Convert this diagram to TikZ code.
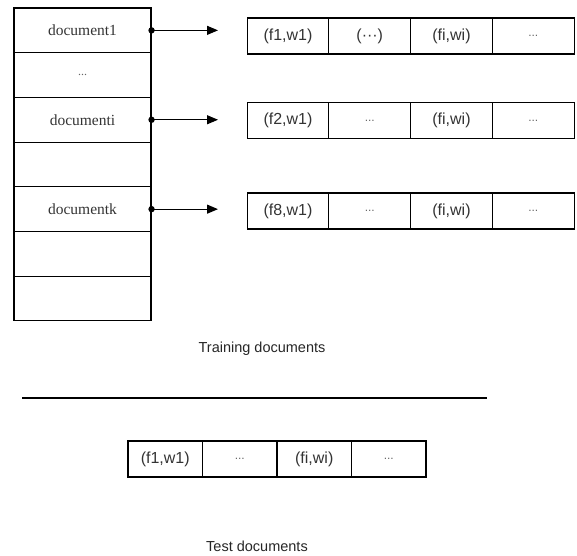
\documentclass[tikz,border=0pt]{standalone}
\usepackage{fontspec}
\setmainfont{Liberation Serif}
\newfontfamily\arialf{Liberation Sans}
\usetikzlibrary{arrows.meta}
\begin{document}
\begin{tikzpicture}[x=1pt,y=-1pt,
 docrow/.style={draw, line width=1.1pt, minimum width=137pt, minimum height=44.7pt, inner sep=0pt, font=\fontsize{15.5}{17}\selectfont, text=black!80},
 cell/.style={draw, line width=1.1pt, minimum width=81.75pt, minimum height=36pt, inner sep=0pt, font=\arialf\fontsize{16}{18}\selectfont, text=black!80},
 tcell/.style={cell, minimum width=74.5pt},
 link/.style={line width=1.1pt, -{Triangle[length=11pt,width=9pt]}},
 lbl/.style={font=\arialf\fontsize{14.5}{17}\selectfont, text=black!85}]
\newcommand{\sdots}{{\fontsize{12}{14}\selectfont\color{black!60}...}}
\useasboundingbox (0,0) rectangle (577,555);
% left column
\node[docrow] (r1) at (82.5,30.35) {document1};
\node[docrow] (r2) at (82.5,75.05) {\sdots};
\node[docrow] (r3) at (82.5,119.75) {documenti};
\node[docrow] (r4) at (82.5,164.45) {};
\node[docrow] (r5) at (82.5,209.15) {documentk};
\node[docrow] (r6) at (82.5,253.85) {};
\node[docrow] (r7) at (82.5,298.55) {};
% arrow ends
\coordinate (a1) at (218,30.35);
\coordinate (a2) at (218,119.75);
\coordinate (a3) at (218,209.15);
\foreach \r/\a in {r1/a1,r3/a2,r5/a3}{
  \fill (\r.east) circle (3.2pt);
  \draw[link] (\r.east) -- (\a);
}
% right rows
\node[cell] (c11) at (288,36) {(f1,w1)};
\node[cell] (c12) at (369.75,36) {(\textperiodcentered\textperiodcentered\textperiodcentered)};
\node[cell] (c13) at (451.5,36) {(fi,wi)};
\node[cell] (c14) at (533.25,36) {\sdots};
\node[cell] (c21) at (288,120.5) {(f2,w1)};
\node[cell] (c22) at (369.75,120.5) {\sdots};
\node[cell] (c23) at (451.5,120.5) {(fi,wi)};
\node[cell] (c24) at (533.25,120.5) {\sdots};
\node[cell] (c31) at (288,211) {(f8,w1)};
\node[cell] (c32) at (369.75,211) {\sdots};
\node[cell] (c33) at (451.5,211) {(fi,wi)};
\node[cell] (c34) at (533.25,211) {\sdots};
% labels and separator
\node[lbl] (train) at (262,349) {Training documents};
\coordinate (s1) at (22,398);
\coordinate (s2) at (487,398);
\draw[line width=1.4pt] (s1) -- (s2);
% test row
\node[tcell] (t1) at (165.25,459) {(f1,w1)};
\node[tcell] (t2) at (239.75,459) {\sdots};
\node[tcell] (t3) at (314.25,459) {(fi,wi)};
\node[tcell] (t4) at (388.75,459) {\sdots};
\node[lbl] (test) at (257,546) {Test documents};
\end{tikzpicture}
\end{document}
